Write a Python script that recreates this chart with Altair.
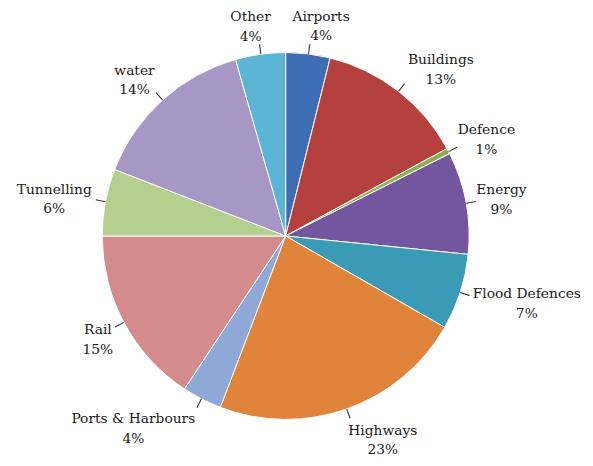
import altair as alt
import pandas as pd

categories = ["Airports", "Buildings", "Defence", "Energy", "Flood Defences",
              "Highways", "Ports & Harbours", "Rail", "Tunnelling", "water", "Other"]
shares = [3.9, 13.2, 0.5, 9.0, 6.7, 22.5, 3.5, 15.7, 5.9, 14.7, 4.4]
pct_labels = ["4%", "13%", "1%", "9%", "7%", "23%", "4%", "15%", "6%", "14%", "4%"]
colors = ["#3D6DB5", "#B4413E", "#8FAE4E", "#72579F", "#3A9BB6",
          "#E0843B", "#8EA8D8", "#D38C8B", "#B5CF8E", "#A697C4", "#5CB4D5"]

df = pd.DataFrame({
    "category": categories,
    "share": shares,
    "pct": pct_labels,
    "order": list(range(len(categories))),
})

R = 186
GAP = 12
FONT = "DejaVu Serif"

base = alt.Chart(df).transform_window(
    cum="sum(share)", sort=[alt.SortField("order")], frame=[None, 0]
).transform_calculate(
    start="datum.cum - datum.share",
    mid="datum.cum - datum.share / 2",
    mid2="datum.cum - datum.share / 2 + 0.09",
    ang="2 * PI * (datum.cum - datum.share / 2) / 100",
).transform_calculate(
    ldx=f"{R + GAP} * sin(datum.ang) + 4.0 * length(datum.category) * clamp(3 * sin(datum.ang), -1, 1)",
    ldy=f"-{R + GAP} * cos(datum.ang) - 19 * cos(datum.ang) + 3",
).transform_calculate(
    lr="sqrt(datum.ldx * datum.ldx + datum.ldy * datum.ldy)",
    lt="((atan2(datum.ldx, -datum.ldy) / (2 * PI) * 100) + 100) % 100",
)

theta_scale = alt.Scale(domain=[0, 100])

pie = base.mark_arc(radius=R, stroke="white", strokeWidth=1).encode(
    theta=alt.Theta("start:Q", scale=theta_scale, stack=None),
    theta2="cum:Q",
    color=alt.Color("category:N", scale=alt.Scale(domain=categories, range=colors), legend=None),
)

leaders = base.mark_arc(radius=R, radius2=R + 10, color="#333333").encode(
    theta=alt.Theta("mid:Q", scale=theta_scale, stack=None),
    theta2="mid2:Q",
)

names = base.mark_text(font=FONT, fontSize=14, dy=-10, color="#1a1a1a").encode(
    theta=alt.Theta("lt:Q", scale=theta_scale, stack=None),
    radius=alt.Radius("lr:Q", scale=None),
    text="category:N",
)

pcts = base.mark_text(font=FONT, fontSize=14, dy=10, color="#1a1a1a").encode(
    theta=alt.Theta("lt:Q", scale=theta_scale, stack=None),
    radius=alt.Radius("lr:Q", scale=None),
    text="pct:N",
)

chart = alt.layer(pie, leaders, names, pcts).properties(
    width=559,
    height=440,
    padding={"left": 2, "top": 8, "right": 24, "bottom": 2},
    autosize=alt.AutoSizeParams(type="none"),
    background="white",
).configure_view(strokeWidth=0)

chart.save("out.html", embed_options={"renderer": "svg", "actions": False})
